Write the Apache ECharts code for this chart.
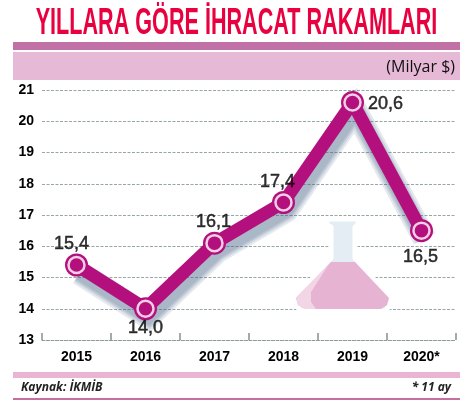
<!DOCTYPE html>
<html><head><meta charset="utf-8">
<script src="https://cdn.jsdelivr.net/npm/echarts@6/dist/echarts.min.js"></script>
<style>html,body{margin:0;padding:0;background:#fff}#c{width:466px;height:405px}</style>
</head><body><div id="c"></div>
<script>
const categories = ['2015','2016','2017','2018','2019','2020*'];
const values = [15.4,14.0,16.1,17.4,20.6,16.5];
const valueLabels = ['15,4','14,0','16,1','17,4','20,6','16,5'];
const labelOffsets = [[-5,-21],[0,19],[-1,-21],[-6,-20],[33,2],[-1,26]];
const sans = '"Liberation Sans",sans-serif';
const chart = echarts.init(document.getElementById('c'),null,{renderer:'canvas'});
const shadowLayers = [24,20,17,14];
chart.setOption({
  animation:false,
  backgroundColor:'#fff',
  grid:{left:42,right:10,top:90,bottom:65,containLabel:false},
  xAxis:{type:'category',data:categories,boundaryGap:true,
    axisLine:{lineStyle:{color:'#8d9a9d',type:[3,1.5],width:1}},
    axisTick:{show:true,inside:true,length:7,alignWithLabel:false,lineStyle:{color:'#a0adaf',width:2}},
    axisLabel:{color:'#000',fontFamily:sans,fontWeight:'bold',fontSize:14,margin:10}},
  yAxis:{type:'value',min:13,max:21,interval:1,
    axisLine:{show:false},axisTick:{show:false},
    splitLine:{lineStyle:{color:'#98a6a8',type:[3,1.5],width:1}},
    axisLabel:{color:'#000',fontFamily:sans,fontWeight:'bold',fontSize:14,margin:8}},
  series:[
    {type:'line',data:values,z:5,symbol:'circle',symbolSize:23,clip:false,
     lineStyle:{color:'#b3107e',width:13,join:'miter'},
     itemStyle:{color:'#b3107e'},
     label:{show:false}},
    {type:'scatter',data:values.map((v,i)=>({value:v,
        label:{show:true,formatter:valueLabels[i],offset:labelOffsets[i]}})),
     z:6,symbol:'circle',symbolSize:16,
     itemStyle:{color:'#b3107e',borderColor:'#fff',borderWidth:2.5},
     label:{position:'inside',color:'#000',fontFamily:sans,fontSize:18,fontWeight:'normal',textBorderColor:'#000',textBorderWidth:0.5}}
  ]
});
const shadowPts = values.map((v,i)=>{const p=chart.convertToPixel({seriesIndex:0},[i,v]);return [p[0]+3,p[1]+8];});
chart.setOption({
  graphic:[
    ...shadowLayers.map(w=>({type:'polyline',z:1,silent:true,shape:{points:shadowPts},
      style:{fill:'none',stroke:'rgba(70,100,135,0.14)',lineWidth:w,lineJoin:'miter'}})),
    {type:'rect',shape:{x:13,y:42,width:447,height:8},style:{fill:'#c271a6'},z:10},
    {type:'rect',shape:{x:13,y:52,width:447,height:28},style:{fill:'#e6b9d6'},z:10},
    {type:'text',x:236.5,y:24,z:10,scaleX:0.6,
     style:{text:'YILLARA GÖRE İHRACAT RAKAMLARI',fill:'#e8003f',font:'bold 36px "Liberation Sans"',align:'center',verticalAlign:'middle'}},
    {type:'text',x:455,y:67,z:11,style:{text:'(Milyar $)',fill:'#111',font:'16px "Open Sans"',align:'right',verticalAlign:'middle'}},
    {type:'rect',shape:{x:13,y:372,width:447,height:6},style:{fill:'#e9b5d2'},z:10},
    {type:'rect',shape:{x:13,y:398,width:447,height:2},style:{fill:'#c56f9f'},z:10},
    {type:'text',x:21,y:388,z:10,style:{text:'Kaynak: İKMİB',fill:'#222',font:'italic bold 12px "Open Sans"',align:'left',verticalAlign:'middle'}},
    {type:'text',x:451,y:388,z:10,style:{text:'* 11 ay',fill:'#222',font:'italic bold 12px "Open Sans"',align:'right',verticalAlign:'middle'}},
    {type:'polygon',z:2,shape:{points:[[327,219],[358,219],[358,225],[355,227],[355,258],[392,300],[386,311],[300,311],[294,300],[331,258],[331,227],[327,225]]},
     style:{fill:'#e3edf3',stroke:'#fff',lineWidth:5,lineJoin:'round'}},
    {type:'polygon',z:2,shape:{points:[[331,262],[355,262],[389,298],[387,305],[381,309],[306,309],[298,305],[296,298]]},
     style:{fill:'#e6b4d2'}},
    {type:'polygon',z:2,shape:{points:[[329,264],[296,298],[298,305],[306,309],[316,309],[311,302],[311,292]]},
     style:{fill:'#f2d6e6'}}
  ]
});
</script></body></html>
